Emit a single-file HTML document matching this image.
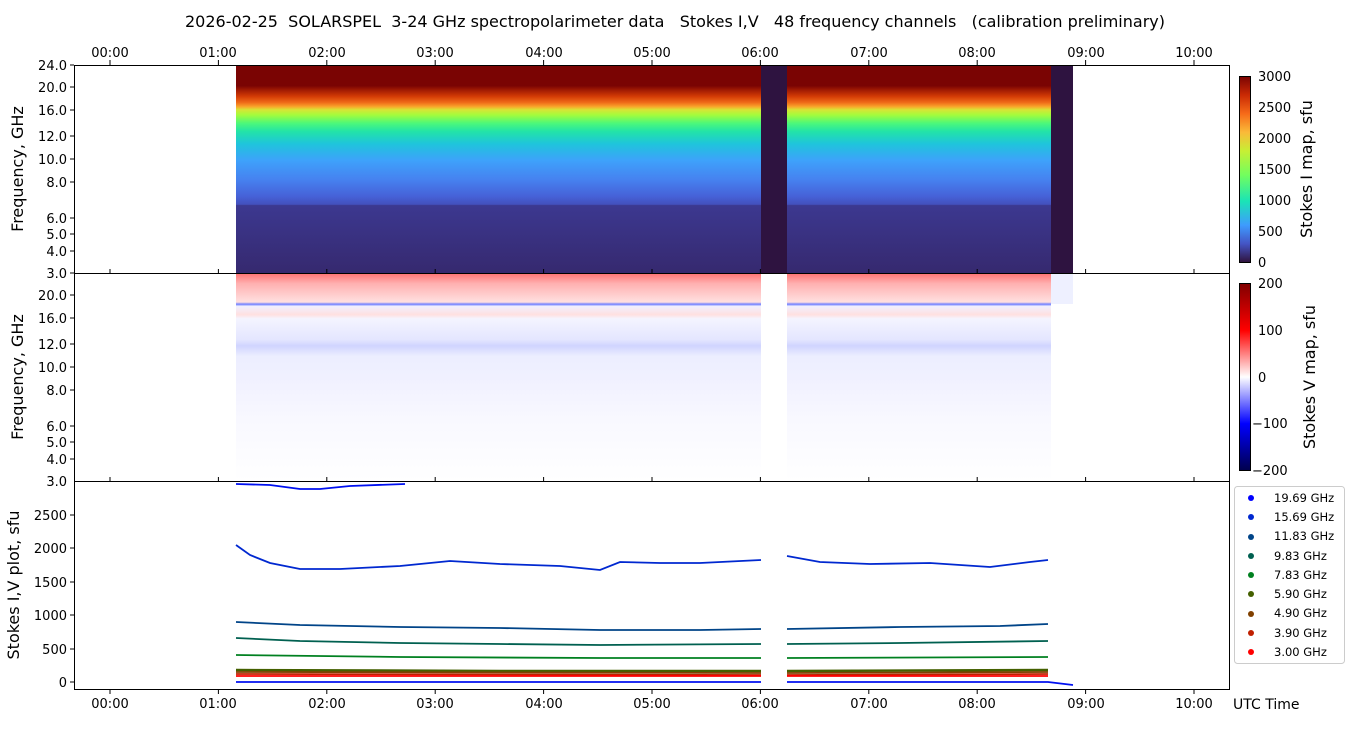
<!DOCTYPE html><html><head><style>body{margin:0;background:#fff}svg{font-family:"DejaVu Sans","Liberation Sans",sans-serif}</style></head><body>
<svg width="1350" height="725" xmlns="http://www.w3.org/2000/svg">
<defs>
<linearGradient id="gi" x1="0" y1="65" x2="0" y2="273" gradientUnits="userSpaceOnUse">
<stop offset="0" stop-color="#7a0403"/><stop offset="0.1" stop-color="#7a0403"/><stop offset="0.12" stop-color="#a01a03"/><stop offset="0.15" stop-color="#d23a05"/><stop offset="0.18" stop-color="#ef6a18"/><stop offset="0.2" stop-color="#f9a52a"/><stop offset="0.215" stop-color="#d8e436"/><stop offset="0.24" stop-color="#a4fc3c"/><stop offset="0.28" stop-color="#4cf87a"/><stop offset="0.32" stop-color="#22e3a8"/><stop offset="0.38" stop-color="#1fc4dc"/><stop offset="0.46" stop-color="#3ea1fb"/><stop offset="0.55" stop-color="#4682f0"/><stop offset="0.63" stop-color="#4662d8"/><stop offset="0.67" stop-color="#4350bd"/><stop offset="0.675" stop-color="#3c3890"/><stop offset="1" stop-color="#36296f"/></linearGradient>
<linearGradient id="cbI" x1="0" y1="1" x2="0" y2="0"><stop offset="0" stop-color="#30123b"/><stop offset="0.1" stop-color="#4454c4"/><stop offset="0.2" stop-color="#3e9bfe"/><stop offset="0.33" stop-color="#1ae4b6"/><stop offset="0.47" stop-color="#72fe5e"/><stop offset="0.6" stop-color="#c7ef34"/><stop offset="0.7" stop-color="#faba39"/><stop offset="0.8" stop-color="#f66b19"/><stop offset="0.9" stop-color="#ca2a04"/><stop offset="1" stop-color="#7a0403"/></linearGradient>
<linearGradient id="cbV" x1="0" y1="1" x2="0" y2="0"><stop offset="0" stop-color="#00004c"/><stop offset="0.25" stop-color="#0000ff"/><stop offset="0.5" stop-color="#ffffff"/><stop offset="0.75" stop-color="#ff0000"/><stop offset="1" stop-color="#800000"/></linearGradient>
<linearGradient id="gv" x1="0" y1="273" x2="0" y2="481" gradientUnits="userSpaceOnUse">
<stop offset="0" stop-color="#ff7070"/><stop offset="0.05" stop-color="#ffb0b0"/><stop offset="0.11" stop-color="#ffd0d0"/><stop offset="0.14" stop-color="#ffe0e0"/><stop offset="0.15" stop-color="#7080ff"/><stop offset="0.16" stop-color="#f0f0ff"/><stop offset="0.2" stop-color="#ffe0e0"/><stop offset="0.22" stop-color="#f4f4ff"/><stop offset="0.32" stop-color="#e4e6ff"/><stop offset="0.35" stop-color="#d0d4ff"/><stop offset="0.4" stop-color="#eceeff"/><stop offset="0.5" stop-color="#f0f0ff"/><stop offset="0.7" stop-color="#f8f8ff"/><stop offset="1" stop-color="#ffffff"/></linearGradient>
</defs>
<text x="675" y="27" font-size="16" text-anchor="middle" xml:space="preserve" style="white-space:pre">2026-02-25  SOLARSPEL  3-24 GHz spectropolarimeter data   Stokes I,V   48 frequency channels   (calibration preliminary)</text>
<!-- top panel -->
<rect x="236" y="65" width="525" height="208" fill="url(#gi)"/>
<rect x="787" y="65" width="264" height="208" fill="url(#gi)"/>
<rect x="761" y="65" width="26" height="208" fill="#2e1340"/>
<rect x="1051" y="65" width="22" height="208" fill="#2e1340"/>
<!-- middle -->
<rect x="236" y="274" width="525" height="207" fill="url(#gv)"/>
<rect x="787" y="274" width="264" height="207" fill="url(#gv)"/>
<rect x="1051" y="274" width="22" height="30" fill="#eef0ff"/>
<!-- bottom lines -->
<g fill="none" stroke-width="1.8">
<path d="M236,484 L270,485 L300,489 L320,489 L350,486 L405,484" stroke="#0010f0"/>
<path d="M236,545 L250,555 L270,563 L300,569 L340,569 L400,566 L450,561 L500,564 L560,566 L600,570 L620,562 L660,563 L700,563 L761,560 M787,556 L820,562 L870,564 L930,563 L990,567 L1030,562 L1048,560" stroke="#0028d0"/>
<path d="M236,622 L300,625 L400,627 L500,628 L600,630 L700,630 L761,629 M787,629 L900,627 L1000,626 L1048,624" stroke="#004488"/>
<path d="M236,638 L300,641 L400,643 L500,644 L600,645 L761,644 M787,644 L900,643 L1048,641" stroke="#006050"/>
<path d="M236,655 L400,657 L600,658 L761,658 M787,658 L1048,657" stroke="#008020"/>
<path d="M236,670 L500,671 L761,671 M787,671 L1048,670" stroke="#446000" stroke-width="2.5"/>
<path d="M236,672 L761,673 M787,673 L1048,672" stroke="#804000"/>
<path d="M236,674 L761,675 M787,675 L1048,674" stroke="#c02000"/>
<path d="M236,676 L761,676 M787,676 L1048,676" stroke="#ff0000"/>
<path d="M236,682 L500,682 L761,682 M787,682 L1048,682 L1073,685" stroke="#0010f0"/>
</g>
<rect x="762" y="482" width="24" height="205" fill="#fff"/>
<!-- axes frames -->
<g fill="none" stroke="#000" stroke-width="1">
<rect x="74.5" y="65.5" width="1155" height="208"/>
<rect x="74.5" y="273.5" width="1155" height="208"/>
<rect x="74.5" y="481.5" width="1155" height="208"/>
</g>
<g stroke="#000">
<path d="M110,65v-5M218.4,65v-5M326.8,65v-5M435.2,65v-5M543.6,65v-5M652,65v-5M760.4,65v-5M868.8,65v-5M977.2,65v-5M1085.6,65v-5M1194,65v-5"/>
<path d="M110,689v5M218.4,689v5M326.8,689v5M435.2,689v5M543.6,689v5M652,689v5M760.4,689v5M868.8,689v5M977.2,689v5M1085.6,689v5M1194,689v5"/>
<path d="M110,273v-4M218.4,273v-4M326.8,273v-4M435.2,273v-4M543.6,273v-4M652,273v-4M760.4,273v-4M868.8,273v-4M977.2,273v-4M1085.6,273v-4M1194,273v-4M110,481v-4M218.4,481v-4M326.8,481v-4M435.2,481v-4M543.6,481v-4M652,481v-4M760.4,481v-4M868.8,481v-4M977.2,481v-4M1085.6,481v-4M1194,481v-4"/>
</g>
<g font-size="13" text-anchor="middle">
<text x="110" y="57">00:00</text><text x="218" y="57">01:00</text><text x="327" y="57">02:00</text><text x="435" y="57">03:00</text><text x="544" y="57">04:00</text><text x="652" y="57">05:00</text><text x="760" y="57">06:00</text><text x="869" y="57">07:00</text><text x="977" y="57">08:00</text><text x="1086" y="57">09:00</text><text x="1194" y="57">10:00</text>
<text x="110" y="708">00:00</text><text x="218" y="708">01:00</text><text x="327" y="708">02:00</text><text x="435" y="708">03:00</text><text x="544" y="708">04:00</text><text x="652" y="708">05:00</text><text x="760" y="708">06:00</text><text x="869" y="708">07:00</text><text x="977" y="708">08:00</text><text x="1086" y="708">09:00</text><text x="1194" y="708">10:00</text>
</g>
<text x="1233" y="709" font-size="14">UTC Time</text>
<g font-size="13" text-anchor="end">
<text x="67" y="70">24.0</text><text x="67" y="92">20.0</text><text x="67" y="115">16.0</text><text x="67" y="141">12.0</text><text x="67" y="164">10.0</text><text x="67" y="187">8.0</text><text x="67" y="223">6.0</text><text x="67" y="239">5.0</text><text x="67" y="256">4.0</text><text x="67" y="278">3.0</text>
<text x="67" y="300">20.0</text><text x="67" y="323">16.0</text><text x="67" y="349">12.0</text><text x="67" y="372">10.0</text><text x="67" y="395">8.0</text><text x="67" y="431">6.0</text><text x="67" y="447">5.0</text><text x="67" y="464">4.0</text><text x="67" y="486">3.0</text>
<text x="67" y="520">2500</text><text x="67" y="553">2000</text><text x="67" y="587">1500</text><text x="67" y="620">1000</text><text x="67" y="654">500</text><text x="67" y="687">0</text>
</g>
<g stroke="#000"><path d="M74,65h-4M74,87h-4M74,110h-4M74,136h-4M74,159h-4M74,182h-4M74,218h-4M74,234h-4M74,251h-4M74,273h-4M74,295h-4M74,318h-4M74,344h-4M74,367h-4M74,390h-4M74,426h-4M74,442h-4M74,459h-4M74,515h-4M74,548h-4M74,582h-4M74,615h-4M74,649h-4M74,682h-4"/></g>
<g font-size="16" text-anchor="middle">
<text transform="translate(23,169) rotate(-90)">Frequency, GHz</text>
<text transform="translate(23,377) rotate(-90)">Frequency, GHz</text>
<text transform="translate(19,585) rotate(-90)">Stokes I,V plot, sfu</text>
<text transform="translate(1312,169) rotate(-90)">Stokes I map, sfu</text>
<text transform="translate(1315,377) rotate(-90)">Stokes V map, sfu</text>
</g>
<rect x="1239.5" y="76.5" width="11" height="186" fill="url(#cbI)" stroke="#000"/>
<rect x="1239.5" y="283.5" width="11" height="187" fill="url(#cbV)" stroke="#000"/>
<g font-size="13"><text x="1258" y="81">3000</text><text x="1258" y="112">2500</text><text x="1258" y="143">2000</text><text x="1258" y="174">1500</text><text x="1258" y="205">1000</text><text x="1258" y="236">500</text><text x="1258" y="267">0</text>
<text x="1258" y="288">200</text><text x="1258" y="335">100</text><text x="1258" y="382">0</text><text x="1252" y="428">−100</text><text x="1252" y="475">−200</text></g>
<rect x="1234.5" y="486.5" width="110" height="177" rx="3" fill="#fff" stroke="#ccc"/>
<g font-size="11.5">
<circle cx="1251" cy="498" r="3" fill="#0000ff"/><text x="1274" y="502">19.69 GHz</text>
<circle cx="1251" cy="517" r="3" fill="#0028d0"/><text x="1274" y="521">15.69 GHz</text>
<circle cx="1251" cy="537" r="3" fill="#004488"/><text x="1274" y="540">11.83 GHz</text>
<circle cx="1251" cy="556" r="3" fill="#006050"/><text x="1274" y="560">9.83 GHz</text>
<circle cx="1251" cy="575" r="3" fill="#008020"/><text x="1274" y="579">7.83 GHz</text>
<circle cx="1251" cy="594" r="3" fill="#446000"/><text x="1274" y="598">5.90 GHz</text>
<circle cx="1251" cy="614" r="3" fill="#804000"/><text x="1274" y="617">4.90 GHz</text>
<circle cx="1251" cy="633" r="3" fill="#c02000"/><text x="1274" y="637">3.90 GHz</text>
<circle cx="1251" cy="652" r="3" fill="#ff0000"/><text x="1274" y="656">3.00 GHz</text>
</g>
</svg></body></html>
